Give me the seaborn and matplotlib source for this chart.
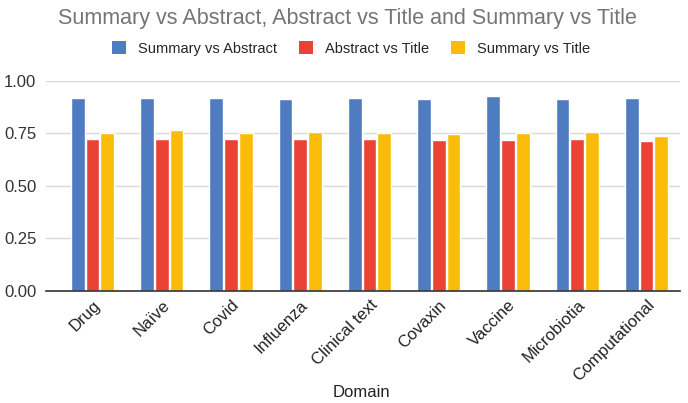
import matplotlib
matplotlib.use("Agg")
import matplotlib.pyplot as plt
from matplotlib.patches import Patch
import seaborn as sns
import pandas as pd

# ─── Datos ────────────────────────────────────────────────────────────────────
DOMINIOS = ["Drug", "Naïve", "Covid", "Influenza", "Clinical text",
            "Covaxin", "Vaccine", "Microbiotia", "Computational"]
SERIES = ["Summary vs Abstract", "Abstract vs Title", "Summary vs Title"]

SUMMARY_ABSTRACT = [0.920, 0.920, 0.920, 0.914, 0.920, 0.914, 0.927, 0.914, 0.920]
ABSTRACT_TITLE   = [0.723, 0.723, 0.723, 0.723, 0.723, 0.719, 0.719, 0.723, 0.712]
SUMMARY_TITLE    = [0.753, 0.765, 0.753, 0.758, 0.753, 0.747, 0.752, 0.758, 0.739]

PALETA = ["#4F7CC1", "#EA4335", "#FBBC09"]

df = pd.DataFrame({
    "Domain": DOMINIOS * 3,
    "serie": [s for s in SERIES for _ in DOMINIOS],
    "valor": SUMMARY_ABSTRACT + ABSTRACT_TITLE + SUMMARY_TITLE,
})

sns.set_theme(style="white")
plt.rcParams["font.family"] = ["Liberation Sans", "DejaVu Sans"]

fig = plt.figure(figsize=(6.88, 4.03), dpi=100)
ax = fig.add_axes([0.067, 0.279, 0.921, 0.52])

sns.barplot(data=df, x="Domain", y="valor", hue="serie", hue_order=SERIES,
            palette=PALETA, width=0.64, gap=0.08, ax=ax, legend=False,
            saturation=1, zorder=3)

ax.set_ylim(0, 1.0)
ax.set_xlim(-0.67, 8.48)
ax.set_yticks([0, 0.25, 0.5, 0.75, 1.0])
ax.set_yticklabels([f"{v:.2f}" for v in [0, 0.25, 0.5, 0.75, 1.0]],
                   fontsize=12, color="#333333")
ax.yaxis.grid(True, color="#d9d9d9", linewidth=1, zorder=0)
ax.tick_params(axis="y", length=0, pad=7)
ax.tick_params(axis="x", length=0, pad=5)
for lado in ["top", "right", "left"]:
    ax.spines[lado].set_visible(False)
ax.spines["bottom"].set_color("#333333")
ax.spines["bottom"].set_linewidth(1.2)
ax.spines["bottom"].set_zorder(4)

ax.set_xticks(range(len(DOMINIOS)))
ax.set_xticklabels(DOMINIOS, rotation=45, ha="right", rotation_mode="anchor",
                   fontsize=12, color="#222222")
ax.set_ylabel("")
ax.set_xlabel("Domain", fontsize=12, color="#222222")
ax.xaxis.set_label_coords(0.498, -0.45)

# Leyenda arriba
handles = [Patch(facecolor=c, edgecolor="none") for c in PALETA]
fig.legend(handles, SERIES, loc="center", bbox_to_anchor=(0.51, 0.88),
           ncol=3, frameon=False, fontsize=10.5, handlelength=1.0,
           handleheight=1.0, columnspacing=1.5, handletextpad=0.8)

fig.text(0.505, 0.955, "Summary vs Abstract, Abstract vs Title and Summary vs Title",
         ha="center", va="center", fontsize=15.5, color="#757575")

fig.savefig("out.png", dpi=100)
